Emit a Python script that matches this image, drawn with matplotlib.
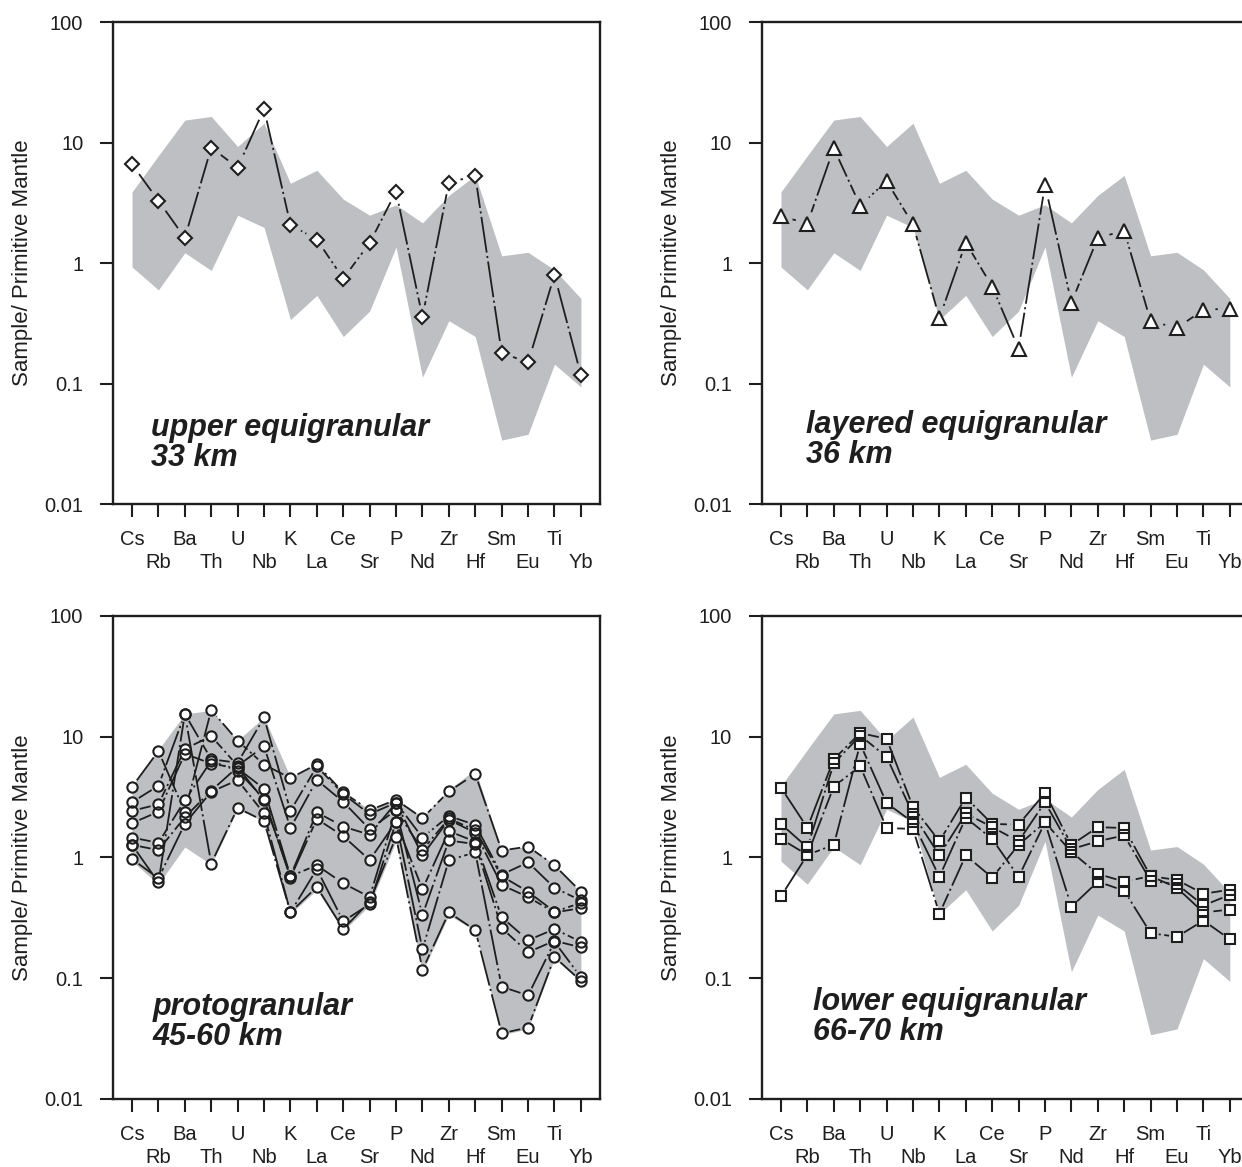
import matplotlib
matplotlib.use('Agg')
import matplotlib.pyplot as plt
import numpy as np

plt.rcParams['font.family'] = ['Liberation Sans', 'DejaVu Sans']
plt.rcParams['lines.scale_dashes'] = False

elements = ['Cs', 'Rb', 'Ba', 'Th', 'U', 'Nb', 'K', 'La', 'Ce', 'Sr',
            'P', 'Nd', 'Zr', 'Hf', 'Sm', 'Eu', 'Ti', 'Yb']

# envelope of all xenoliths (grey field)
field_upper = [3.9, 7.8, 15.4, 16.5, 9.3, 14.5, 4.6, 5.9, 3.4, 2.5,
               3.05, 2.16, 3.65, 5.35, 1.15, 1.23, 0.88, 0.51]
field_lower = [0.93, 0.60, 1.22, 0.87, 2.5, 1.98, 0.34, 0.54, 0.246, 0.40,
               1.36, 0.113, 0.333, 0.246, 0.034, 0.038, 0.145, 0.094]

upper_eq = [[6.6, 3.3, 1.62, 9.1, 6.2, 19.1, 2.08, 1.57, 0.745, 1.47,
             3.93, 0.357, 4.67, 5.3, 0.18, 0.15, 0.80, 0.118]]

layered_eq = [[2.46, 2.13, 8.98, 3.0, 4.8, 2.1, 0.35, 1.48, 0.64, 0.195,
               4.47, 0.47, 1.62, 1.86, 0.33, 0.29, 0.41, 0.42]]

protogranular = [
    [3.84, 7.6, 2.38, 16.6, 9.25, 5.86, 4.54, 5.9, 3.45, 2.46, 3.0, 2.11, 3.52, 4.9, 1.14, 1.23, 0.86, 0.52],
    [2.86, 3.92, 15.4, 6.5, 6.07, 14.4, 2.43, 5.66, 3.35, 2.28, 2.84, 1.46, 2.2, 1.86, 0.72, 0.91, 0.56, 0.44],
    [2.43, 2.75, 7.9, 10.1, 5.73, 8.3, 1.75, 4.38, 2.88, 1.71, 2.46, 1.15, 2.1, 1.68, 0.70, 0.52, 0.355, 0.42],
    [1.92, 2.39, 7.2, 5.98, 5.46, 3.7, 0.70, 2.36, 1.8, 1.54, 2.84, 1.04, 2.05, 1.6, 0.59, 0.47, 0.35, 0.38],
    [1.46, 1.32, 2.96, 6.3, 5.2, 3.06, 0.68, 2.08, 1.5, 0.95, 1.97, 0.545, 1.65, 1.35, 0.32, 0.206, 0.255, 0.2],
    [1.27, 1.15, 2.15, 3.57, 5.6, 2.96, 0.70, 0.86, 0.61, 0.47, 2.46, 0.333, 1.38, 1.29, 0.26, 0.164, 0.204, 0.18],
    [0.97, 0.67, 1.90, 3.5, 4.36, 2.31, 0.35, 0.80, 0.296, 0.41, 1.97, 0.173, 0.95, 1.1, 0.085, 0.072, 0.2, 0.102],
    [1.27, 0.62, 15.4, 0.89, 2.57, 2.0, 0.35, 0.57, 0.255, 0.43, 1.48, 0.117, 0.35, 0.25, 0.035, 0.039, 0.15, 0.095],
]

lower_eq = [
    [3.78, 1.76, 6.5, 10.7, 9.6, 2.62, 1.36, 3.13, 1.89, 1.87, 3.41, 1.27, 1.78, 1.75, 0.70, 0.65, 0.50, 0.54],
    [1.89, 1.21, 6.0, 10.2, 6.8, 2.28, 1.04, 2.31, 1.78, 1.36, 2.86, 1.17, 1.36, 1.52, 0.64, 0.60, 0.40, 0.49],
    [1.42, 1.05, 1.27, 8.7, 2.82, 1.95, 0.69, 2.13, 1.42, 0.69, 1.95, 1.11, 0.73, 0.63, 0.70, 0.56, 0.35, 0.37],
    [0.476, 1.05, 3.86, 5.7, 1.75, 1.72, 0.342, 1.04, 0.68, 1.27, 1.95, 0.39, 0.63, 0.53, 0.236, 0.22, 0.30, 0.21],
]

DPI = 100
fig = plt.figure(figsize=(12.42, 11.67), dpi=DPI)

ink = '#1e1e1e'
grey = '#bebfc3'
dash = (26, 2.5, 1.5, 2.5)   # long dash - dot
x = np.arange(len(elements))


def draw_sample(ax, vals, gap):
    # segments stop short of the symbols; dash phase runs on along the line
    pts = ax.transData.transform(np.column_stack([x, vals]))
    inv = ax.transData.inverted()
    run = 0.0
    for p0, p1 in zip(pts[:-1], pts[1:]):
        d = p1 - p0
        L = np.hypot(*d)
        if L > 2 * gap:
            u = d / L
            seg = inv.transform(np.vstack([p0 + u * gap, p1 - u * gap]))
            ax.plot(seg[:, 0], seg[:, 1], color=ink, lw=1.3,
                    linestyle=(run % sum(dash), dash), zorder=3)
        run += L * 72.0 / DPI


panels = [
    ([0.091, 0.568, 0.392, 0.413], upper_eq, 'D', 7.2, 12,
     'upper equigranular\n33 km', 0.078, 0.127),
    ([0.6135, 0.568, 0.392, 0.413], layered_eq, '^', 10.5, 12,
     'layered equigranular\n36 km', 0.091, 0.133),
    ([0.091, 0.0583, 0.392, 0.414], protogranular, 'o', 7.4, 8,
     'protogranular\n45-60 km', 0.082, 0.160),
    ([0.6135, 0.0583, 0.392, 0.414], lower_eq, 's', 7.4, 8,
     'lower equigranular\n66-70 km', 0.105, 0.170),
]

for rect, samples, mk, ms, gap, title, tx, ty in panels:
    ax = fig.add_axes(rect)
    ax.set_yscale('log')
    ax.set_xlim(-0.72, 17.72)
    ax.set_ylim(0.01, 100)

    ax.fill_between(x, field_lower, field_upper, color=grey, lw=0, zorder=1)

    for vals in samples:
        draw_sample(ax, vals, gap)
    # white faces first, then outlines, so stacked symbols all show
    for vals in samples:
        ax.plot(x, vals, ls='none', marker=mk, ms=ms, mfc='white',
                mec='none', zorder=4)
    for vals in samples:
        ax.plot(x, vals, ls='none', marker=mk, ms=ms, mfc='none',
                mec=ink, mew=1.5, zorder=5)

    ax.set_yticks([0.01, 0.1, 1, 10, 100])
    ax.set_yticklabels(['0.01', '0.1', '1', '10', '100'])
    ax.yaxis.set_minor_locator(matplotlib.ticker.NullLocator())
    ax.set_xticks(x)
    ax.set_xticklabels([e if i % 2 == 0 else '\n' + e
                        for i, e in enumerate(elements)], linespacing=1.3)
    ax.tick_params(axis='x', direction='out', length=9.4, width=1.5,
                   pad=9, labelsize=14.5, colors=ink)
    ax.tick_params(axis='y', direction='out', length=9.4, width=1.5,
                   pad=12, labelsize=14.5, colors=ink)
    for sp in ax.spines.values():
        sp.set_linewidth(1.7)
        sp.set_color(ink)
    ax.set_ylabel('Sample/ Primitive Mantle', fontsize=16, color=ink,
                  labelpad=8)

    ax.text(tx, ty, title, transform=ax.transAxes, fontsize=22,
            fontweight='bold', fontstyle='italic', color=ink,
            ha='left', va='center', linespacing=1.0, zorder=6)

fig.savefig('out.png', dpi=DPI)
